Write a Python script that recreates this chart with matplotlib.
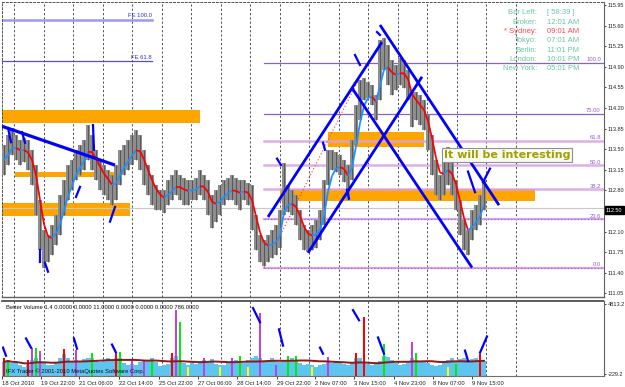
import numpy as np
import pandas as pd
import matplotlib
matplotlib.use("Agg")
import matplotlib.pyplot as plt
from matplotlib.collections import LineCollection

W, H = 625, 387
plt.rcParams['font.family'] = ['Liberation Sans', 'DejaVu Sans']

# ---------------- data ----------------
bar_high = [113.57, 113.74, 113.86, 113.74, 113.66, 113.69, 113.66, 113.49, 113.23, 112.64,
            112.13, 112.04, 112.22, 112.39, 112.72, 112.98, 113.23, 113.32, 113.49, 113.57,
            113.66, 113.91, 113.74, 113.49, 113.32, 113.23, 113.15, 113.06, 113.23, 113.49,
            113.57, 113.66, 113.74, 113.83, 113.74, 113.49, 113.23, 113.06, 112.89, 112.81,
            112.81, 112.98, 113.06, 113.15, 113.06, 113.01, 112.98, 112.98, 113.01, 113.15,
            113.06, 112.98, 112.72, 112.81, 112.89, 112.98, 113.01, 113.06, 113.01, 112.98,
            112.98, 112.93, 112.89, 112.39, 112.04, 111.96, 112.04, 112.13, 112.22, 112.47,
            113.27, 112.89, 112.81, 112.72, 112.47, 112.22, 112.13, 112.22, 112.30, 112.47,
            112.98, 113.49, 113.49, 113.45, 113.40, 113.32, 113.23, 113.66, 114.25, 114.68,
            114.71, 114.64, 114.59, 114.42, 115.36, 115.39, 115.27, 115.02, 114.93, 115.05,
            115.02, 114.85, 114.51, 114.47, 114.42, 114.34, 114.08, 113.74, 113.32, 113.06,
            113.40, 113.54, 113.32, 112.98, 112.64, 112.30, 112.13, 112.47, 112.55, 112.72,
            112.98]
bar_low = [113.06, 113.23, 113.40, 113.32, 113.23, 113.29, 113.15, 112.89, 112.39, 111.79,
           111.49, 111.59, 111.71, 111.88, 112.04, 112.39, 112.64, 112.81, 112.98, 113.06,
           113.15, 113.32, 113.15, 112.98, 112.81, 112.72, 112.64, 112.55, 112.64, 112.89,
           113.06, 113.15, 113.23, 113.32, 113.15, 112.89, 112.72, 112.55, 112.47, 112.47,
           112.42, 112.55, 112.64, 112.72, 112.64, 112.55, 112.55, 112.64, 112.64, 112.72,
           112.64, 112.39, 112.16, 112.27, 112.39, 112.55, 112.64, 112.64, 112.55, 112.47,
           112.64, 112.55, 112.13, 111.79, 111.59, 111.52, 111.59, 111.65, 111.71, 111.82,
           112.39, 112.44, 112.39, 112.22, 111.96, 111.79, 111.76, 111.79, 111.82, 111.96,
           112.22, 112.89, 113.15, 113.12, 113.06, 112.95, 112.64, 112.98, 113.57, 114.00,
           114.34, 114.37, 114.25, 114.00, 114.34, 114.85, 114.59, 114.42, 114.51, 114.59,
           114.54, 114.34, 113.88, 114.00, 113.91, 113.83, 113.49, 113.06, 112.72, 112.64,
           112.72, 112.89, 112.72, 112.47, 112.04, 111.79, 111.71, 111.96, 112.13, 112.22,
           112.47]
last_price = 112.50

price_ticks = [115.95, 115.60, 115.25, 114.90, 114.55, 114.20, 113.85, 113.50,
               113.15, 112.80, 112.10, 111.75, 111.40, 111.05]

time_labels = ["18 Oct 2010", "19 Oct 22:00", "21 Oct 06:00", "22 Oct 14:00", "25 Oct 22:00",
               "27 Oct 06:00", "28 Oct 14:00", "29 Oct 22:00", "2 Nov 07:00", "3 Nov 15:00",
               "4 Nov 23:00", "8 Nov 07:00", "9 Nov 15:00"]
time_label_pos = [-0.5, 9.25, 18.75, 28.75, 38.75, 48.5, 58.25, 68.25, 77.75, 87.5,
                  97.5, 107.25, 117.0]

vol = [650, 750, 550, 600, 400, 300, 450, 800, 950, 700,
       550, 450, 400, 650, 900, 1200, 950, 650, 800, 700,
       850, 900, 950, 800, 650, 700, 900, 800, 950, 900,
       550, 450, 500, 450, 650, 700, 800, 900, 650, 350,
       400, 500, 900, 1050, 700, 550, 450, 650, 500, 700,
       800, 700, 850, 500, 400, 450, 550, 700, 800, 700,
       550, 800, 950, 1050, 900, 700, 800, 900, 700, 650,
       700, 800, 900, 700, 550, 450, 500, 400, 300, 400,
       500, 650, 550, 700, 650, 500, 400, 550, 900, 950,
       650, 500, 400, 500, 700, 1100, 1000, 800, 550, 400,
       500, 700, 950, 800, 650, 700, 550, 450, 350, 400,
       650, 800, 900, 700, 850, 900, 800, 850, 900, 800,
       700]
spike_idx = [0, 1, 6, 7, 8, 9, 15, 18, 22, 28, 29, 32, 35, 37, 42, 43, 44, 46, 50, 54,
             57, 59, 61, 64, 68, 71, 73, 77, 81, 88, 90, 95, 102, 103, 111, 113, 119]
spike_val = [950, 800, 800, 1650, 1650, 1400, 1600, 1500, 1300, 1200, 1350, 800, 800, 800,
             1300, 4400, 3500, 300, 900, 300, 900, 1100, 300, 4200, 400, 1100, 1100, 300,
             1000, 1250, 3900, 1900, 2100, 1300, 300, 500, 1200]
spike_kind = ['r', 'g', 'r', 'm', 'g', 'm', 'r', 'm', 'g', 'r', 'g', 'm', 'm', 'g', 'r', 'm',
              'g', 'y', 'm', 'y', 'm', 'g', 'y', 'm', 'm', 'g', 'g', 'y', 'm', 'r', 'r', 'g',
              'm', 'g', 'y', 'g', 'r']
vol_ticks = [4813.2, -229.2]

fib_pct = [0.0, 23.6, 38.2, 50.0, 61.8, 75.0, 100.0]
fib_text = ["0.0", "23.6", "38.2", "50.0", "61.8", "75.00", "100.0"]
fib_low, fib_high = 111.49, 114.97
fib_start, fib_low_x, fib_high_x = 65.0, 65.0, 90.75

fe_levels = [115.70, 115.00]
fe_text = ["FE 100.0", "FE 61.8"]
fe_end = 37.0

# zones: x0, x1, price low, price high
zone_x0 = [-0.5, 2.75, -0.5, 69.0, 81.0]
zone_x1 = [49.0, 27.75, 31.5, 132.75, 105.0]
zone_lo = [113.95, 113.03, 112.37, 112.62, 113.54]
zone_hi = [114.17, 113.12, 112.59, 112.83, 113.79]

# trend / channel lines: x0, p0, x1, p1
trend_lines = [(-0.5, 113.89, 27.75, 113.23),
               (66.0, 112.35, 94.5, 115.32),
               (76.0, 111.74, 104.5, 114.73),
               (94.0, 115.61, 123.75, 112.55),
               (87.0, 114.54, 117.0, 111.49)]
marks_main = [(1.0, 113.86, 1.75, 113.62), (4.5, 113.79, 5.25, 113.61),
              (22.25, 113.91, 22.5, 113.49), (19.0, 112.86, 18.0, 112.69),
              (9.0, 111.79, 9.0, 111.59), (10.25, 111.57, 11.0, 111.42),
              (27.75, 112.52, 26.5, 112.27), (68.25, 113.34, 69.25, 113.23),
              (85.75, 112.81, 86.25, 112.66), (79.75, 113.61, 80.25, 113.49),
              (87.75, 115.10, 89.0, 114.93), (93.25, 115.49, 94.0, 115.44),
              (116.0, 113.12, 117.75, 112.77), (119.75, 112.94, 121.5, 113.17)]
marks_vol = [(-0.25, 1671, 0.5, 1086), (5.5, 2329, 6.75, 1671), (17.5, 2329, 18.25, 1598),
             (27.0, 1890, 28.0, 1306), (62.25, 4521, 64.0, 3498), (68.75, 2986, 69.75, 1817),
             (79.0, 1671, 79.75, 1232), (87.25, 4375, 88.75, 3644), (93.5, 2402, 95.0, 1232),
             (115.25, 1452, 116.0, 721), (119.0, 1306, 120.75, 2475)]

clock_labels = ["Bar Left:", "Broker:", "* Sydney:", "Tokyo:", "Berlin:", "London:", "New York:"]
clock_values = ["[ 58:39 ]", "12:01 AM", "09:01 AM", "07:01 AM", "11:01 PM", "10:01 PM", "05:01 PM"]

# ---------------- figure ----------------
fig = plt.figure(figsize=(W / 100, H / 100), dpi=100)
fig.patch.set_facecolor('white')


def rect(l, t, r, b):
    return [l / W, 1 - b / H, (r - l) / W, (b - t) / H]


def ftxt(x, y, s, **kw):
    fig.text(x / W, 1 - y / H, s, **kw)


ax = fig.add_axes(rect(2, 2, 604, 297))
axv = fig.add_axes(rect(2, 301, 604, 376))
XL = (-0.5, 150.0)
ax.set_xlim(*XL)
axv.set_xlim(*XL)
ax.set_ylim(110.99, 116.0)
VY = (-375.4, 5032.4)
axv.set_ylim(*VY)

grid_pos = [2.5 + 7.375 * k for k in range(18)]
for a in (ax, axv):
    for g in grid_pos:
        a.axvline(g, color='#4a4a5a', lw=0.7, ls=(0, (2.2, 2.2)), zorder=0.5)

n = len(bar_high)
xs = np.arange(n)
hi = np.array(bar_high)
lo = np.array(bar_low)

# zones
for x0, x1, zl, zh in zip(zone_x0, zone_x1, zone_lo, zone_hi):
    ax.fill_between([x0, x1], zl, zh, color='#FFA500', lw=0, zorder=1)

# current price line
ax.axhline(last_price, color='#C8C8C8', lw=0.8, zorder=1.5)

# fibonacci
fib_prices = [fib_low + p / 100 * (fib_high - fib_low) for p in fib_pct]
for p, lvl, t in zip(fib_pct, fib_prices, fib_text):
    if p in (100.0, 75.0):
        ax.plot([fib_start, XL[1]], [lvl, lvl], color='#8a5fd0', lw=0.9, zorder=2)
    elif p in (61.8, 50.0, 38.2):
        ax.plot([fib_start, XL[1]], [lvl, lvl], color='#d9a0e6', lw=1.8, alpha=0.85, zorder=2)
    else:
        ax.plot([fib_start, XL[1]], [lvl, lvl], color='#e0a0e8', lw=1.6, zorder=2)
        ax.plot([fib_start, XL[1]], [lvl, lvl], color='#7070e0', lw=0.8,
                ls=(0, (1, 2)), zorder=2)
    ax.text(149.2, lvl + 0.01, t, ha='right', va='bottom', fontsize=4.2,
            color='#9060c8', zorder=6)
ax.plot([fib_low_x, fib_high_x], [fib_low, fib_high], color='#ff3030', lw=0.8,
        ls=(0, (1, 2)), zorder=2)

# FE lines
ax.plot([XL[0], fe_end], [fe_levels[0]] * 2, color='#9a9af0', lw=1.8, zorder=2)
ax.plot([XL[0], fe_end], [fe_levels[1]] * 2, color='#5050d8', lw=0.9, zorder=2)
for lv, t in zip(fe_levels, fe_text):
    ax.text(fe_end, lv + 0.02, t, ha='right', va='bottom', fontsize=4.2,
            color='#3030c0', zorder=6)

# price bars
ax.vlines(xs, lo, hi, color='#8e8e8e', lw=2.9, zorder=3)
ax.vlines(xs, lo, hi, color='#3a3a3a', lw=0.45, zorder=3.1)

# moving average coloured by slope
mid = pd.Series((hi + lo) / 2)
ma = mid.ewm(span=3, adjust=False).mean().values
segs = [[(i, ma[i]), (i + 1, ma[i + 1])] for i in range(n - 1)]
cols = ['#ff0000' if ma[i + 1] < ma[i] else '#1e90ff' for i in range(n - 1)]
ax.add_collection(LineCollection(segs, colors=cols, linewidths=1.3, zorder=4))

# trend lines and marks
for i, (x0, p0, x1, p1) in enumerate(trend_lines):
    ax.plot([x0, x1], [p0, p1], color='#0000ff', lw=2.0 if i else 2.3,
            solid_capstyle='butt', zorder=5)
for x0, p0, x1, p1 in marks_main:
    ax.plot([x0, x1], [p0, p1], color='#0000ff', lw=1.6, zorder=5)

# text box
ax.text(125.75, 113.40, "It will be interesting", ha='center', va='center',
        fontsize=8, fontweight='bold', family='DejaVu Sans', color='#a0a000', zorder=7,
        bbox=dict(boxstyle='square,pad=0.15', fc='#fafaf5', ec='#909090', lw=0.8))

# axes styling main
ax.yaxis.tick_right()
ax.set_yticks(price_ticks)
ax.set_yticklabels([f"{v:.2f}" for v in price_ticks])
ax.tick_params(axis='y', labelsize=4.0, length=1.6, width=0.6, pad=0.8, colors='#202020')
ax.set_xticks([])
for s in ('left', 'top'):
    ax.spines[s].set_linestyle((0, (2, 2)))
    ax.spines[s].set_color('#505050')
    ax.spines[s].set_linewidth(0.7)
ax.spines['right'].set_color('#606060')
ax.spines['bottom'].set_color('#606060')
ax.spines['bottom'].set_linewidth(1.0)

# current price box
ftxt(606, 210, f"{last_price:.2f}", ha='left', va='center', fontsize=4.0, color='white',
     bbox=dict(boxstyle='square,pad=0.2', fc='black', ec='black'))

# clock
for k, (lab, val) in enumerate(zip(clock_labels, clock_values)):
    y = 13 + k * 9.3
    c = '#ff4a4a' if 'Sydney' in lab else '#66c8a0'
    ftxt(537, y, lab, ha='right', va='center', fontsize=5.5, color=c)
    ftxt(547, y, val, ha='left', va='center', fontsize=5.5, color=c)

# ---------------- volume ----------------
v = np.array(vol, dtype=float)
axv.bar(xs, v - VY[0], bottom=VY[0], width=1.0, color='#5ec4f0', lw=0, zorder=1)
cmap = {'r': '#ff0000', 'g': '#00ee00', 'm': '#c040e0', 'y': '#ffff00'}
axv.bar(spike_idx, np.array(spike_val) - VY[0], bottom=VY[0], width=0.55,
        color=[cmap[k] for k in spike_kind], lw=0, zorder=2)
avg = pd.Series(v).rolling(20, min_periods=1).mean().values
axv.plot(xs, avg, color='#8b1a1a', lw=1.4, zorder=3)
for x0, p0, x1, p1 in marks_vol:
    axv.plot([x0, x1], [p0, p1], color='#0000ff', lw=1.6, zorder=4)

axv.yaxis.tick_right()
axv.set_yticks(vol_ticks)
axv.set_yticklabels([f"{t:.1f}" for t in vol_ticks])
axv.tick_params(axis='y', labelsize=4.0, length=1.6, width=0.6, pad=0.8, colors='#202020')
axv.set_xticks(time_label_pos)
axv.set_xticklabels(time_labels, ha='left')
axv.tick_params(axis='x', labelsize=4.2, length=2.5, width=0.6, pad=1.0, colors='#202020')
axv.spines['top'].set_linestyle((0, (1, 1)))
axv.spines['top'].set_linewidth(1.3)
axv.spines['top'].set_color('#505050')
axv.spines['left'].set_visible(False)
axv.spines['right'].set_color('#606060')
axv.spines['bottom'].set_color('#707070')
axv.text(0.5, 4550, "Better Volume 1.4 0.0000 0.0000 11.0000 0.0000 0.0000 0.0000 786.0000",
         ha='left', va='center', fontsize=4.2, color='#101010', zorder=6)
axv.text(0.5, -50, "IFX Trader © 2001-2010 MetaQuotes Software Corp.",
         ha='left', va='center', fontsize=4.2, color='#101010', zorder=6)

fig.savefig("out.png", dpi=100, facecolor='white')
